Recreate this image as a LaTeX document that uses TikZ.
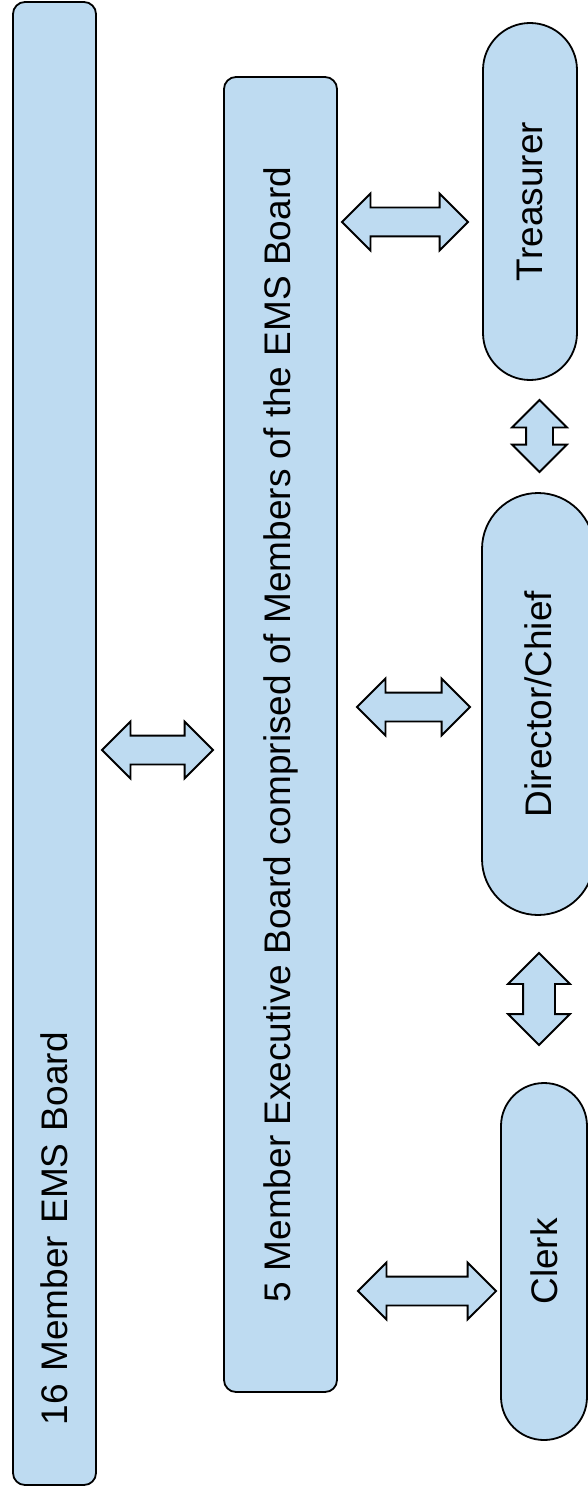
\documentclass[tikz,border=0pt]{standalone}
\usepackage{fontspec}
\setmainfont{Liberation Sans}
\usetikzlibrary{shapes.misc,shapes.arrows}
\definecolor{boardblue}{RGB}{190,219,241}
\tikzset{
  panel/.style={draw, line width=1.8pt, fill=boardblue, rounded corners=12pt,
    rotate=90, inner sep=0pt, font=\fontsize{37}{44}\selectfont},
  officer/.style={rounded rectangle, draw, line width=1.8pt, fill=boardblue,
    rotate=90, inner sep=0pt, font=\fontsize{37}{44}\selectfont},
  link/.style={double arrow, draw, line width=1.8pt, fill=boardblue,
    inner xsep=0pt, inner ysep=13.5pt, double arrow head extend=14pt},
}
\begin{document}
\begin{tikzpicture}[x=1pt,y=-1pt]
  \clip (0,0) rectangle (588,1495);
  % boards
  \node[panel, minimum width=1483pt, minimum height=83pt, text width=1363pt,
    align=left, inner xsep=60pt] (board) at (54.5,743.5) {16 Member EMS Board};
  \node[panel, minimum width=1315pt, minimum height=113pt] (exec) at (280.5,734.5)
    {5 Member Executive Board comprised of Members of the EMS Board};
  % officers
  \node[officer, minimum width=357pt, minimum height=94pt] (treas) at (530,201.5) {Treasurer};
  \node[officer, minimum width=422pt, minimum height=112pt] (chief) at (538,704) {Director/Chief};
  \node[officer, minimum width=357pt, minimum height=86pt] (clerk) at (544,1261.5) {Clerk};
  % block arrows
  \node[link, minimum height=111pt] (boardexec) at (157.5,750) {};
  \node[link, minimum height=126pt] (exectreas) at (405,222) {};
  \node[link, minimum height=113pt] (execchief) at (413.5,707) {};
  \node[link, minimum height=138pt] (execclerk) at (427,1291) {};
  \node[link, rotate=90, minimum height=72pt, inner ysep=12.5pt] (treaschief) at (539.5,436) {};
  \node[link, rotate=90, minimum height=92pt, inner ysep=15pt,
    double arrow head extend=15pt] (chiefclerk) at (539,999) {};
\end{tikzpicture}
\end{document}
